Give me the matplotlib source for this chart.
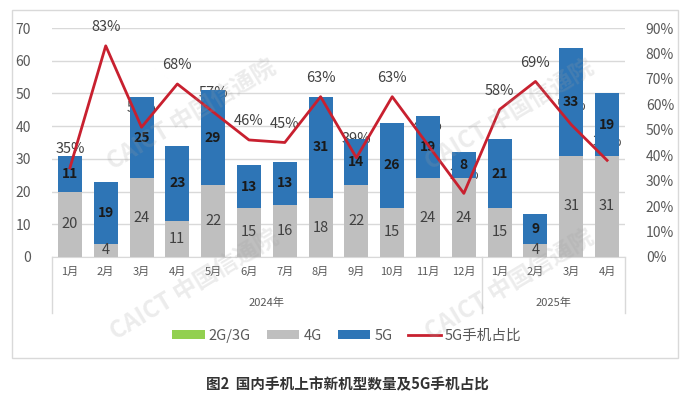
import matplotlib
matplotlib.use("Agg")
import matplotlib.pyplot as plt
import numpy as np

plt.rcParams['font.family'] = ['Noto Sans CJK SC', 'DejaVu Sans']

# 国内手机上市新机型数量（款）
months = ["1月", "2月", "3月", "4月", "5月", "6月", "7月", "8月", "9月", "10月", "11月", "12月",
          "1月", "2月", "3月", "4月"]
years = ["2024年", "2025年"]
g23 = [0, 0, 0, 0, 0, 0, 0, 0, 0, 0, 0, 0, 0, 0, 0, 0]
g4 = [20, 4, 24, 11, 22, 15, 16, 18, 22, 15, 24, 24, 15, 4, 31, 31]
g5 = [11, 19, 25, 23, 29, 13, 13, 31, 14, 26, 19, 8, 21, 9, 33, 19]
share5g = [0.35, 0.83, 0.51, 0.68, 0.57, 0.46, 0.45, 0.63, 0.39, 0.63, 0.44, 0.25,
           0.58, 0.69, 0.52, 0.38]

c_green = "#92D050"
c_gray = "#BFBFBF"
c_blue = "#2E75B6"
c_red = "#C8202F"
c_txt = "#595959"

W, H = 688, 397
fig = plt.figure(figsize=(W / 100, H / 100), dpi=100)

# plot area in pixels: x 52..625, y 28..257
ax = fig.add_axes([52 / W, 1 - 257 / H, (625 - 52) / W, (257 - 28) / H])
ax2 = ax.twinx()

x = np.arange(len(months))
b0 = ax.bar(x, g23, 0.67, color=c_green, label="2G/3G", zorder=3)
b1 = ax.bar(x, g4, 0.67, bottom=g23, color=c_gray, label="4G", zorder=3)
bot5 = np.array(g23) + np.array(g4)
b2 = ax.bar(x, g5, 0.67, bottom=bot5, color=c_blue, label="5G", zorder=3)

for i in range(len(x)):
    ax.text(x[i], g23[i] + g4[i] / 2, str(g4[i]), ha="center", va="center",
            fontsize=10.5, color="#404040", zorder=4)
    ax.text(x[i], bot5[i] + g5[i] / 2, str(g5[i]), ha="center", va="center",
            fontsize=10, color="#1a1a1a", fontweight="bold", zorder=4)
    # percentage labels sit behind the bars
    ax.annotate(f"{share5g[i] * 100:.0f}%", (x[i], share5g[i]), xycoords=ax2.transData,
                xytext=(0, 13.5), textcoords="offset points", ha="center", va="center",
                fontsize=10.5, color="#404040", zorder=1)

ln, = ax2.plot(x, share5g, color=c_red, lw=2, label="5G手机占比", zorder=5)

ax.set_xlim(-0.5, len(x) - 0.5)
ax.set_ylim(0, 70)
ax.set_yticks(range(0, 71, 10))
ax2.set_ylim(0, 0.9)
ax2.set_yticks(np.arange(0, 0.91, 0.1))
ax2.set_yticklabels([f"{v}%" for v in range(0, 91, 10)])

ax.grid(axis="y", color="#D9D9D9", lw=1, zorder=0)
ax.set_axisbelow(True)
for a in (ax, ax2):
    for s in a.spines.values():
        s.set_visible(False)
ax.spines["bottom"].set_visible(True)
ax.spines["bottom"].set_color("#D9D9D9")

ax.set_xticks(x)
ax.set_xticklabels(months, fontsize=8, color=c_txt)
ax.tick_params(axis="x", length=0, pad=7)
ax.tick_params(axis="y", length=0, pad=15, labelsize=10, labelcolor=c_txt)
ax2.tick_params(axis="y", length=0, pad=15, labelsize=10, labelcolor=c_txt)

# two-level category axis
yb = (257 - 313) / 229
for xv in (0, 12 / 16, 1):
    ax.plot([xv, xv], [0, yb], transform=ax.transAxes, color="#D9D9D9", lw=1, clip_on=False)
ax.text(6 / 16, (257 - 303) / 229, years[0], transform=ax.transAxes, ha="center", va="center",
        fontsize=8, color=c_txt)
ax.text(14 / 16, (257 - 303) / 229, years[1], transform=ax.transAxes, ha="center", va="center",
        fontsize=8, color=c_txt)

fig.legend(handles=[b0, b1, b2, ln], loc="center", bbox_to_anchor=(347 / W, 1 - 336 / H),
           ncol=4, frameon=False, fontsize=10.5, labelcolor=c_txt, handlelength=2.2,
           handleheight=0.6, handletextpad=0.3, columnspacing=1.1)

# outer frame
fig.add_artist(plt.Rectangle((12 / W, 1 - 358 / H), 666 / W, 348 / H, transform=fig.transFigure,
                             fill=False, edgecolor="#D9D9D9", lw=1))

# watermarks
for cx, cy in [(192, 115), (510, 115), (195, 285), (510, 285)]:
    fig.text(cx / W, 1 - cy / H, "CAICT 中国信通院", rotation=31, ha="center", va="center",
             fontsize=17, fontweight="bold", color="#A0A0A0", alpha=0.2, zorder=10)

fig.text(347 / W, 1 - 384 / H, "图2  国内手机上市新机型数量及5G手机占比", ha="center", va="center",
         fontsize=10.5, fontweight="bold", color="#333333")

fig.savefig("out.png", dpi=100)
